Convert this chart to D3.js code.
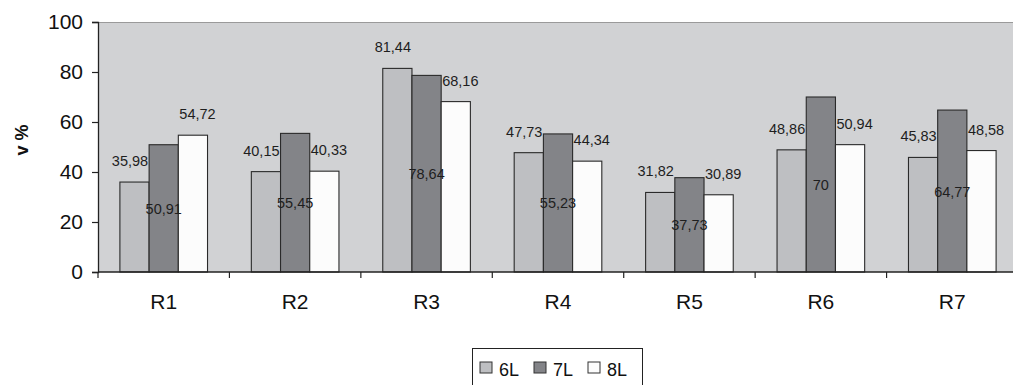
<!DOCTYPE html>
<html>
<head>
<meta charset="utf-8">
<script src="https://cdn.jsdelivr.net/npm/d3@7"></script>
<style>
  html, body { margin: 0; padding: 0; background: #fff; }
  svg { display: block; font-family: "Liberation Sans", Arial, sans-serif; }
</style>
</head>
<body>
<svg id="chart" width="1013" height="385"></svg>
<script>
// Chart data
const categories = ["R1", "R2", "R3", "R4", "R5", "R6", "R7"];
const seriesNames = ["6L", "7L", "8L"];
const values6L = [35.98, 40.15, 81.44, 47.73, 31.82, 48.86, 45.83];
const values7L = [50.91, 55.45, 78.64, 55.23, 37.73, 70, 64.77];
const values8L = [54.72, 40.33, 68.16, 44.34, 30.89, 50.94, 48.58];
const yTicks = [0, 20, 40, 60, 80, 100];

const seriesValues = [values6L, values7L, values8L];
const seriesFill = ["#bebfc2", "#838488", "#fcfcfc"];

const svg = d3.select("#chart");
const plot = { left: 98, top: 22, right: 1018, bottom: 272 };

const x = d3.scaleBand().domain(categories).range([plot.left, plot.right]).padding(0);
const barW = x.bandwidth() / 4.5;
const xs = d3.scaleBand().domain(seriesNames)
  .range([0.75 * barW, 3.75 * barW]).padding(0);
const y = d3.scaleLinear().domain([0, 100]).range([plot.bottom, plot.top]);

const fmt = v => String(v).replace(".", ",");

// Plot area
svg.append("rect")
  .attr("x", plot.left).attr("y", plot.top)
  .attr("width", plot.right - plot.left).attr("height", plot.bottom - plot.top)
  .attr("fill", "#d1d2d4");
svg.append("line")
  .attr("x1", plot.left).attr("x2", plot.right)
  .attr("y1", plot.top + 0.5).attr("y2", plot.top + 0.5)
  .attr("stroke", "#9a9a9a").attr("stroke-width", 1.2);

// Bars
const rows = [];
categories.forEach((c, i) => {
  seriesNames.forEach((s, j) => rows.push({ cat: c, series: s, j, value: seriesValues[j][i] }));
});

svg.append("g").selectAll("rect").data(rows).join("rect")
  .attr("x", d => x(d.cat) + xs(d.series))
  .attr("y", d => y(d.value))
  .attr("width", xs.bandwidth())
  .attr("height", d => y(0) - y(d.value))
  .attr("fill", d => seriesFill[d.j])
  .attr("stroke", "#2a2a2a").attr("stroke-width", 1.1);

// Value labels
svg.append("g").selectAll("text").data(rows).join("text")
  .attr("font-size", 14.5)
  .attr("fill", "#1e1e1e")
  .attr("text-anchor", d => d.j === 0 ? "end" : d.j === 1 ? "middle" : "start")
  .attr("x", d => {
    const bx = x(d.cat) + xs(d.series);
    if (d.j === 0) return bx + xs.bandwidth() - 1;
    if (d.j === 1) return bx + xs.bandwidth() / 2;
    return bx + 1;
  })
  .attr("y", d => d.j === 1 ? (y(d.value) + y(0)) / 2 + 5.5 : y(d.value) - 16)
  .text(d => fmt(d.value));

// Y axis
const yAxis = svg.append("g")
  .attr("transform", `translate(${plot.left},0)`)
  .call(d3.axisLeft(y).tickValues(yTicks).tickSize(6).tickPadding(9).tickFormat(d3.format("d")));
yAxis.select(".domain").attr("stroke", "#222").attr("stroke-width", 1.3);
yAxis.selectAll(".tick line").attr("stroke", "#222").attr("stroke-width", 1.2);
yAxis.selectAll(".tick text").attr("font-size", 21).attr("fill", "#111")
  .attr("font-family", "Liberation Sans, Arial, sans-serif");

// X axis
const boundaries = d3.range(categories.length + 1).map(i => plot.left + i * x.step());
const xAxisG = svg.append("g");
xAxisG.append("line")
  .attr("x1", plot.left).attr("x2", plot.right)
  .attr("y1", plot.bottom).attr("y2", plot.bottom)
  .attr("stroke", "#222").attr("stroke-width", 1.3);
xAxisG.selectAll("line.tick").data(boundaries).join("line")
  .attr("class", "tick")
  .attr("x1", d => d).attr("x2", d => d)
  .attr("y1", plot.bottom).attr("y2", plot.bottom + 6)
  .attr("stroke", "#222").attr("stroke-width", 1.2);
xAxisG.selectAll("text").data(categories).join("text")
  .attr("x", d => x(d) + x.bandwidth() / 2)
  .attr("y", 309)
  .attr("text-anchor", "middle")
  .attr("font-size", 21).attr("fill", "#111")
  .text(d => d);

// Y axis title
svg.append("text")
  .attr("transform", "translate(28,140) rotate(-90)")
  .attr("text-anchor", "middle")
  .attr("font-size", 18).attr("font-weight", "bold").attr("fill", "#111")
  .text("v %");

// Legend
const legend = svg.append("g");
legend.append("rect")
  .attr("x", 472.5).attr("y", 348.5).attr("width", 170).attr("height", 45)
  .attr("fill", "#fff").attr("stroke", "#222").attr("stroke-width", 1);
const legendX = [480, 534, 588];
const items = legend.selectAll("g.item").data(seriesNames).join("g")
  .attr("class", "item")
  .attr("transform", (d, i) => `translate(${legendX[i]},362)`);
items.append("rect")
  .attr("width", 12).attr("height", 11)
  .attr("fill", (d, i) => seriesFill[i])
  .attr("stroke", "#333").attr("stroke-width", 1);
items.append("text")
  .attr("x", 19).attr("y", 13.5)
  .attr("font-size", 18).attr("fill", "#111")
  .text(d => d);
</script>
</body>
</html>
